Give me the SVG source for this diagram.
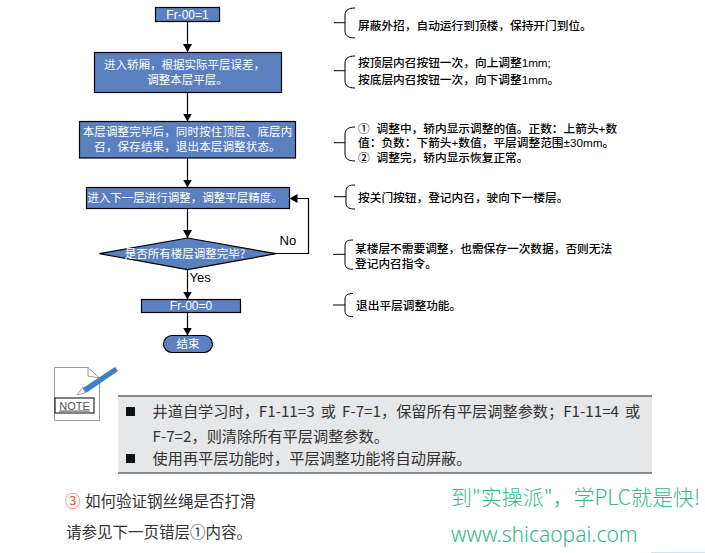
<svg xmlns="http://www.w3.org/2000/svg" width="705" height="553" viewBox="0 0 705 553">
<style>
text{font-family:"Noto Sans CJK SC","Liberation Sans",sans-serif}
.n{fill:#5b80c0;stroke:#000;stroke-width:1.2}
.t{fill:#fff;font-size:11.5px;text-anchor:middle}
.l{fill:none;stroke:#000;stroke-width:1.2}
.c{fill:none;stroke:#000;stroke-width:1.2}
.a{font-family:"Liberation Sans",sans-serif;font-size:13px;fill:#000}
.b{fill:none;stroke:#000;stroke-width:1}
.r{font-family:"Liberation Sans","Noto Sans CJK SC",sans-serif;font-size:11.7px;fill:#000;font-weight:500}
.g{font-size:15.2px;fill:#333}
.d{font-size:15.5px;fill:#333}
.w{fill:#34b78f;font-weight:300}
</style>
<defs>
<marker id="h" markerUnits="userSpaceOnUse" markerWidth="9" markerHeight="9" refX="8" refY="4.5" orient="auto"><path d="M0 0L8 4.5L0 9z" fill="#000"/></marker>
</defs>
<g id="connectors">
<path class="c" d="M187.500 21.500V52" marker-end="url(#h)"/>
<path class="c" d="M187.500 92.500V121.500" marker-end="url(#h)"/>
<path class="c" d="M187.500 158V187.500" marker-end="url(#h)"/>
<path class="c" d="M187.500 208.500V238" marker-end="url(#h)"/>
<path class="c" d="M187.500 270V299.500" marker-end="url(#h)"/>
<path class="c" d="M187.500 312.500V335.500" marker-end="url(#h)"/>
<path class="c" d="M276 253.500H308.500V198.500H289.500" marker-end="url(#h)"/>
<text class="a" x="279.500" y="245">No</text>
<text class="a" x="189.500" y="282">Yes</text>
</g>
<g id="n1"><rect class="n" x="155.500" y="7.500" width="64" height="14"/><text class="t" style="font-family:'Liberation Sans',sans-serif;font-size:12px" x="187.500" y="18.500">Fr-00=1</text></g>
<g id="n2"><rect class="n" x="94.500" y="52.500" width="187" height="40"/><text class="t" x="184.500" y="69">进入轿厢，根据实际平层误差，</text><text class="t" x="187.500" y="84">调整本层平层。</text></g>
<g id="n3"><rect class="n" x="79.500" y="121.500" width="216" height="36.500"/><text class="t" style="letter-spacing:.15px" x="187.500" y="136">本层调整完毕后，同时按住顶层、底层内</text><text class="t" style="letter-spacing:.15px" x="187.500" y="151">召，保存结果，退出本层调整状态。</text></g>
<g id="n4"><rect class="n" x="86.500" y="187.500" width="203" height="21"/><text class="t" x="185" y="202">进入下一层进行调整，调整平层精度。</text></g>
<g id="n5"><path class="n" d="M99.500 253.700L187.500 238L276 253.700L187.500 269.700z"/><text class="t" x="185" y="258">是否所有楼层调整完毕?</text></g>
<g id="n6"><rect class="n" x="141.500" y="299.500" width="99" height="13"/><text class="t" style="font-family:'Liberation Sans',sans-serif;font-size:12px" x="191" y="310">Fr-00=0</text></g>
<g id="n7"><rect class="n" x="163.500" y="335.500" width="49" height="17" rx="8.500"/><text class="t" x="188" y="348">结束</text></g>
<g id="note1"><path class="b" d="M334 22.700H345M355 8C349 8 345 10 345 15V31C345 36 349 38 355 38"/><text class="r" x="358" y="30">屏蔽外招，自动运行到顶楼，保持开门到位。</text></g>
<g id="note2"><path class="b" d="M334 70.700H345M355 56C349 56 345 58 345 63V81C345 86 349 88 355 88"/><text class="r" x="358" y="67">按顶层内召按钮一次，向上调整1mm;</text><text class="r" x="358" y="83.500">按底层内召按钮一次，向下调整1mm。</text></g>
<g id="note3"><path class="b" d="M334 142.700H345M355 127C349 127 345 129 345 134V154C345 159 349 161 355 161"/><text class="r" x="358" y="132.500">① <tspan x="376.500">调整中，轿内显示调整的值。正数：上箭头+数</tspan></text><text class="r" x="358" y="147">值：负数：下箭头+数值，平层调整范围±30mm。</text><text class="r" x="358" y="162">② <tspan x="376.500">调整完，轿内显示恢复正常。</tspan></text></g>
<g id="note4"><path class="b" d="M334 196.700H346M355 185C350 185 346 186 346 191V203C346 208 350 209 355 209"/><text class="r" x="358" y="202">按关门按钮，登记内召，驶向下一楼层。</text></g>
<g id="note5"><path class="b" d="M333 254.300H345M353 240C348 240 345 241 345 246V263C345 268 348 269.300 353 269.300"/><text class="r" x="355" y="252.500">某楼层不需要调整，也需保存一次数据，否则无法</text><text class="r" x="355" y="268">登记内召指令。</text></g>
<g id="note6"><path class="b" d="M333 305H345M353 293.500C348 293.500 345 295 345 299V311C345 315 348 316.700 353 316.700"/><text class="r" x="356" y="310">退出平层调整功能。</text></g>
<g id="note-icon">
<path d="M54.500 367.500H88L99.500 378V420.500H54.500z" fill="#fff" stroke="#999" stroke-width="1"/>
<path d="M88 367.500V376L99.500 378" fill="none" stroke="#999"/>
<path d="M77 395L83 387L85 393z" fill="#fff" stroke="#888" stroke-width=".8"/>
<path d="M83 388L115 367L118 371L86 393z" fill="#3f7fc4"/>
<rect x="55" y="398" width="39" height="15" fill="#fff" stroke="#000" stroke-width="1"/>
<text x="74.500" y="409.500" text-anchor="middle" style="font-family:'Liberation Sans',sans-serif;font-size:11px;fill:#555;text-decoration:underline">NOTE</text>
</g>
<g id="note-panel">
<rect x="118" y="396" width="534" height="77" fill="#e6e7e8"/>
<path d="M118 396H652M118 473H652" stroke="#222" stroke-width="1.200" fill="none"/>
<rect x="126" y="407" width="9" height="9" fill="#111"/>
<rect x="126" y="454" width="9" height="9" fill="#111"/>
<text class="g" style="word-spacing:2.700px" x="152.500" y="417">井道自学习时，F1-11=3 或 F-7=1，保留所有平层调整参数；F1-11=4 或</text>
<text class="g" x="152.500" y="442">F-7=2，则清除所有平层调整参数。</text>
<text class="g" x="152.500" y="464">使用再平层功能时，平层调整功能将自动屏蔽。</text>
</g>
<g id="footer">
<text x="65" y="507" style="font-size:15.500px;fill:#e8562a">③</text>
<text class="d" x="85" y="507">如何验证钢丝绳是否打滑</text>
<text class="d" x="66" y="538">请参见下一页错层①内容。</text>
<text class="w" x="451" y="505" style="font-size:21px">到"实操派"，学PLC就是快!</text>
<text class="w" x="451" y="542" style="font-size:21px;font-family:'Noto Sans',sans-serif">www.shicaopai.com</text>
<rect x="651" y="552" width="54" height="1" fill="#cfe2f3"/>
</g>
</svg>
